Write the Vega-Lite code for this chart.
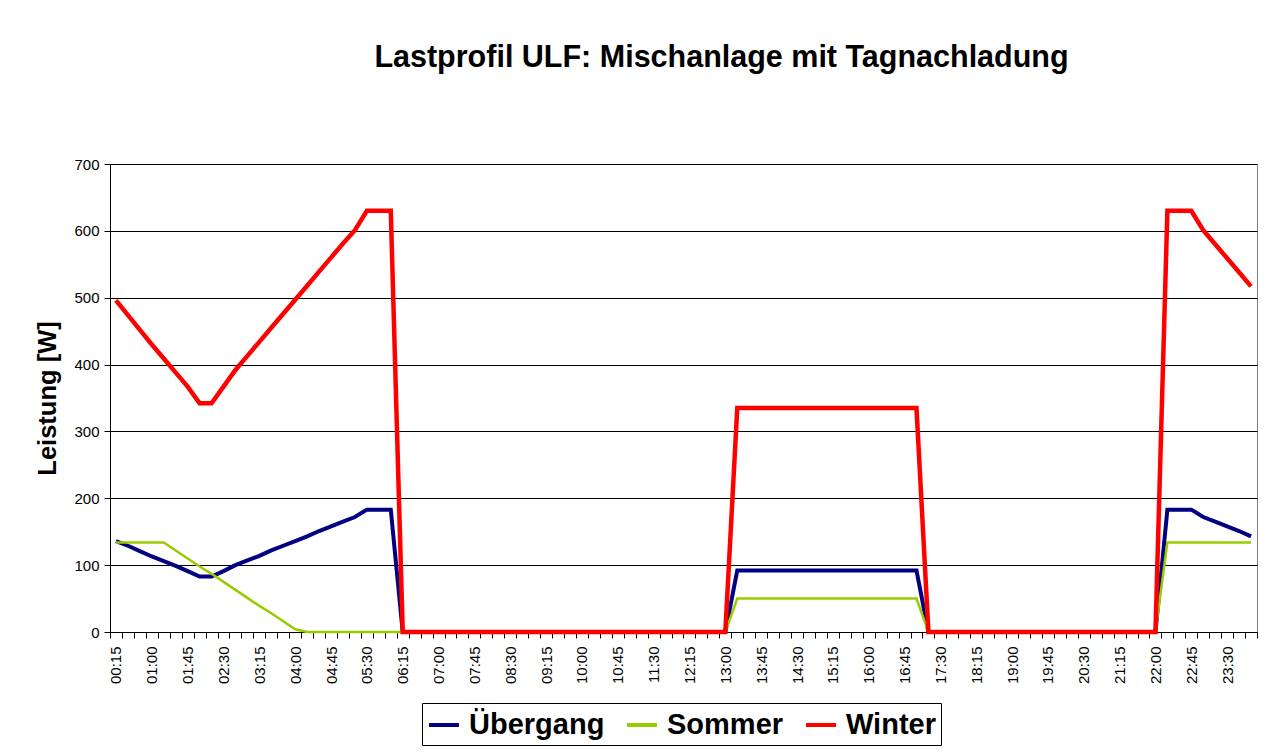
{
  "$schema": "https://vega.github.io/schema/vega-lite/v6.json",
  "width": 1147,
  "height": 468,
  "autosize": {"type": "none"},
  "padding": {"left": 110, "top": 164, "right": 7, "bottom": 122},
  "background": "white",
  "title": {
    "text": "Lastprofil ULF: Mischanlage mit Tagnachladung",
    "fontSize": 30.5,
    "fontWeight": "bold",
    "color": "black",
    "anchor": "middle",
    "dx": 38,
    "offset": 60,
    "baseline": "alphabetic"
  },
  "data": {
    "values": [
      {"Zeit": "00:15", "Übergang": 136, "Sommer": 134, "Winter": 496},
      {"Zeit": "00:30", "Übergang": 129, "Sommer": 134, "Winter": 474},
      {"Zeit": "00:45", "Übergang": 121, "Sommer": 134, "Winter": 452},
      {"Zeit": "01:00", "Übergang": 113, "Sommer": 134, "Winter": 430},
      {"Zeit": "01:15", "Übergang": 106, "Sommer": 134, "Winter": 409},
      {"Zeit": "01:30", "Übergang": 99, "Sommer": 122, "Winter": 388},
      {"Zeit": "01:45", "Übergang": 91, "Sommer": 110, "Winter": 367},
      {"Zeit": "02:00", "Übergang": 83, "Sommer": 98, "Winter": 342},
      {"Zeit": "02:15", "Übergang": 83, "Sommer": 87, "Winter": 342},
      {"Zeit": "02:30", "Übergang": 91, "Sommer": 75, "Winter": 367},
      {"Zeit": "02:45", "Übergang": 100, "Sommer": 63, "Winter": 392},
      {"Zeit": "03:00", "Übergang": 107, "Sommer": 51, "Winter": 413},
      {"Zeit": "03:15", "Übergang": 114, "Sommer": 39, "Winter": 434},
      {"Zeit": "03:30", "Übergang": 122, "Sommer": 28, "Winter": 455},
      {"Zeit": "03:45", "Übergang": 129, "Sommer": 16, "Winter": 476},
      {"Zeit": "04:00", "Übergang": 136, "Sommer": 4, "Winter": 497},
      {"Zeit": "04:15", "Übergang": 143, "Sommer": 0, "Winter": 518},
      {"Zeit": "04:30", "Übergang": 151, "Sommer": 0, "Winter": 539},
      {"Zeit": "04:45", "Übergang": 158, "Sommer": 0, "Winter": 560},
      {"Zeit": "05:00", "Übergang": 165, "Sommer": 0, "Winter": 581},
      {"Zeit": "05:15", "Übergang": 172, "Sommer": 0, "Winter": 601},
      {"Zeit": "05:30", "Übergang": 183, "Sommer": 0, "Winter": 630},
      {"Zeit": "05:45", "Übergang": 183, "Sommer": 0, "Winter": 630},
      {"Zeit": "06:00", "Übergang": 183, "Sommer": 0, "Winter": 630},
      {"Zeit": "06:15", "Übergang": 0, "Sommer": 0, "Winter": 0},
      {"Zeit": "06:30", "Übergang": 0, "Sommer": 0, "Winter": 0},
      {"Zeit": "06:45", "Übergang": 0, "Sommer": 0, "Winter": 0},
      {"Zeit": "07:00", "Übergang": 0, "Sommer": 0, "Winter": 0},
      {"Zeit": "07:15", "Übergang": 0, "Sommer": 0, "Winter": 0},
      {"Zeit": "07:30", "Übergang": 0, "Sommer": 0, "Winter": 0},
      {"Zeit": "07:45", "Übergang": 0, "Sommer": 0, "Winter": 0},
      {"Zeit": "08:00", "Übergang": 0, "Sommer": 0, "Winter": 0},
      {"Zeit": "08:15", "Übergang": 0, "Sommer": 0, "Winter": 0},
      {"Zeit": "08:30", "Übergang": 0, "Sommer": 0, "Winter": 0},
      {"Zeit": "08:45", "Übergang": 0, "Sommer": 0, "Winter": 0},
      {"Zeit": "09:00", "Übergang": 0, "Sommer": 0, "Winter": 0},
      {"Zeit": "09:15", "Übergang": 0, "Sommer": 0, "Winter": 0},
      {"Zeit": "09:30", "Übergang": 0, "Sommer": 0, "Winter": 0},
      {"Zeit": "09:45", "Übergang": 0, "Sommer": 0, "Winter": 0},
      {"Zeit": "10:00", "Übergang": 0, "Sommer": 0, "Winter": 0},
      {"Zeit": "10:15", "Übergang": 0, "Sommer": 0, "Winter": 0},
      {"Zeit": "10:30", "Übergang": 0, "Sommer": 0, "Winter": 0},
      {"Zeit": "10:45", "Übergang": 0, "Sommer": 0, "Winter": 0},
      {"Zeit": "11:00", "Übergang": 0, "Sommer": 0, "Winter": 0},
      {"Zeit": "11:15", "Übergang": 0, "Sommer": 0, "Winter": 0},
      {"Zeit": "11:30", "Übergang": 0, "Sommer": 0, "Winter": 0},
      {"Zeit": "11:45", "Übergang": 0, "Sommer": 0, "Winter": 0},
      {"Zeit": "12:00", "Übergang": 0, "Sommer": 0, "Winter": 0},
      {"Zeit": "12:15", "Übergang": 0, "Sommer": 0, "Winter": 0},
      {"Zeit": "12:30", "Übergang": 0, "Sommer": 0, "Winter": 0},
      {"Zeit": "12:45", "Übergang": 0, "Sommer": 0, "Winter": 0},
      {"Zeit": "13:00", "Übergang": 0, "Sommer": 0, "Winter": 0},
      {"Zeit": "13:15", "Übergang": 92, "Sommer": 50, "Winter": 335},
      {"Zeit": "13:30", "Übergang": 92, "Sommer": 50, "Winter": 335},
      {"Zeit": "13:45", "Übergang": 92, "Sommer": 50, "Winter": 335},
      {"Zeit": "14:00", "Übergang": 92, "Sommer": 50, "Winter": 335},
      {"Zeit": "14:15", "Übergang": 92, "Sommer": 50, "Winter": 335},
      {"Zeit": "14:30", "Übergang": 92, "Sommer": 50, "Winter": 335},
      {"Zeit": "14:45", "Übergang": 92, "Sommer": 50, "Winter": 335},
      {"Zeit": "15:00", "Übergang": 92, "Sommer": 50, "Winter": 335},
      {"Zeit": "15:15", "Übergang": 92, "Sommer": 50, "Winter": 335},
      {"Zeit": "15:30", "Übergang": 92, "Sommer": 50, "Winter": 335},
      {"Zeit": "15:45", "Übergang": 92, "Sommer": 50, "Winter": 335},
      {"Zeit": "16:00", "Übergang": 92, "Sommer": 50, "Winter": 335},
      {"Zeit": "16:15", "Übergang": 92, "Sommer": 50, "Winter": 335},
      {"Zeit": "16:30", "Übergang": 92, "Sommer": 50, "Winter": 335},
      {"Zeit": "16:45", "Übergang": 92, "Sommer": 50, "Winter": 335},
      {"Zeit": "17:00", "Übergang": 92, "Sommer": 50, "Winter": 335},
      {"Zeit": "17:15", "Übergang": 0, "Sommer": 0, "Winter": 0},
      {"Zeit": "17:30", "Übergang": 0, "Sommer": 0, "Winter": 0},
      {"Zeit": "17:45", "Übergang": 0, "Sommer": 0, "Winter": 0},
      {"Zeit": "18:00", "Übergang": 0, "Sommer": 0, "Winter": 0},
      {"Zeit": "18:15", "Übergang": 0, "Sommer": 0, "Winter": 0},
      {"Zeit": "18:30", "Übergang": 0, "Sommer": 0, "Winter": 0},
      {"Zeit": "18:45", "Übergang": 0, "Sommer": 0, "Winter": 0},
      {"Zeit": "19:00", "Übergang": 0, "Sommer": 0, "Winter": 0},
      {"Zeit": "19:15", "Übergang": 0, "Sommer": 0, "Winter": 0},
      {"Zeit": "19:30", "Übergang": 0, "Sommer": 0, "Winter": 0},
      {"Zeit": "19:45", "Übergang": 0, "Sommer": 0, "Winter": 0},
      {"Zeit": "20:00", "Übergang": 0, "Sommer": 0, "Winter": 0},
      {"Zeit": "20:15", "Übergang": 0, "Sommer": 0, "Winter": 0},
      {"Zeit": "20:30", "Übergang": 0, "Sommer": 0, "Winter": 0},
      {"Zeit": "20:45", "Übergang": 0, "Sommer": 0, "Winter": 0},
      {"Zeit": "21:00", "Übergang": 0, "Sommer": 0, "Winter": 0},
      {"Zeit": "21:15", "Übergang": 0, "Sommer": 0, "Winter": 0},
      {"Zeit": "21:30", "Übergang": 0, "Sommer": 0, "Winter": 0},
      {"Zeit": "21:45", "Übergang": 0, "Sommer": 0, "Winter": 0},
      {"Zeit": "22:00", "Übergang": 0, "Sommer": 0, "Winter": 0},
      {"Zeit": "22:15", "Übergang": 183, "Sommer": 134, "Winter": 630},
      {"Zeit": "22:30", "Übergang": 183, "Sommer": 134, "Winter": 630},
      {"Zeit": "22:45", "Übergang": 183, "Sommer": 134, "Winter": 630},
      {"Zeit": "23:00", "Übergang": 172, "Sommer": 134, "Winter": 601},
      {"Zeit": "23:15", "Übergang": 165, "Sommer": 134, "Winter": 580},
      {"Zeit": "23:30", "Übergang": 158, "Sommer": 134, "Winter": 559},
      {"Zeit": "23:45", "Übergang": 151, "Sommer": 134, "Winter": 538},
      {"Zeit": "24:00", "Übergang": 143, "Sommer": 134, "Winter": 517}
    ]
  },
  "transform": [
    {"fold": ["Übergang", "Sommer", "Winter"], "as": ["Reihe", "Leistung"]}
  ],
  "encoding": {
    "x": {
      "field": "Zeit",
      "type": "ordinal",
      "sort": null,
      "bandPosition": 0.5,
      "scale": {"type": "band", "paddingInner": 0, "paddingOuter": 0},
      "axis": {
        "title": null,
        "labelAngle": 270,
        "labelFontSize": 15,
        "labelColor": "black",
        "labelOverlap": false,
        "labelPadding": 8,
        "labelExpr": "(toNumber(slice(datum.label,0,2))*60+toNumber(slice(datum.label,3,5)))%45==15 ? datum.label : ''",
        "tickBand": "extent",
        "tickSize": 6,
        "tickColor": "black",
        "domainColor": "black",
        "grid": false
      }
    },
    "y": {
      "field": "Leistung",
      "type": "quantitative",
      "scale": {"domain": [0, 700], "nice": false},
      "axis": {
        "title": "Leistung [W]",
        "titleFontSize": 25.5,
        "titleFontWeight": "bold",
        "titleColor": "black",
        "titlePadding": 13,
        "values": [0, 100, 200, 300, 400, 500, 600, 700],
        "labelFontSize": 15,
        "labelColor": "black",
        "labelPadding": 5,
        "tickSize": 6,
        "tickColor": "black",
        "domainColor": "black",
        "grid": true,
        "gridColor": "black",
        "gridWidth": 1
      }
    },
    "color": {
      "field": "Reihe",
      "type": "nominal",
      "scale": {"domain": ["Übergang", "Sommer", "Winter"], "range": ["#000080", "#99CC00", "#FF0000"]},
      "legend": {
        "title": null,
        "orient": "none",
        "legendX": 312,
        "legendY": 539,
        "direction": "horizontal",
        "symbolType": "stroke",
        "symbolSize": 900,
        "symbolStrokeWidth": 4,
        "labelFontSize": 29,
        "labelFontWeight": "bold",
        "labelColor": "black",
        "labelOffset": 8,
        "columnPadding": 14,
        "strokeColor": "black",
        "fillColor": "white",
        "padding": 5
      }
    }
  },
  "layer": [
    {"transform": [{"filter": "datum.Reihe == 'Übergang'"}], "mark": {"type": "line", "strokeWidth": 4}},
    {"transform": [{"filter": "datum.Reihe == 'Sommer'"}], "mark": {"type": "line", "strokeWidth": 2.5}},
    {"transform": [{"filter": "datum.Reihe == 'Winter'"}], "mark": {"type": "line", "strokeWidth": 4.5}}
  ],
  "config": {
    "font": "Liberation Sans",
    "view": {"stroke": "#808080", "strokeWidth": 1}
  }
}
